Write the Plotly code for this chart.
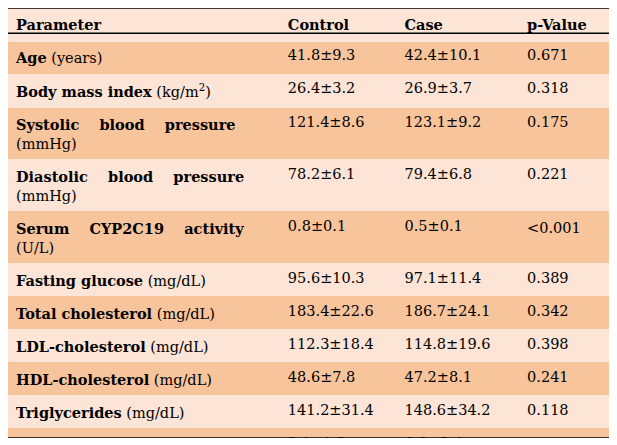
import plotly.graph_objects as go

params = ['<b>Age</b> (years)', '<b>Body mass index</b> (kg/m<sup>2</sup>)',
          '<b>Systolic    blood    pressure</b><br>(mmHg)',
          '<b>Diastolic    blood    pressure</b><br>(mmHg)',
          '<b>Serum    CYP2C19    activity</b><br>(U/L)',
          '<b>Fasting glucose</b> (mg/dL)', '<b>Total cholesterol</b> (mg/dL)',
          '<b>LDL-cholesterol</b> (mg/dL)', '<b>HDL-cholesterol</b> (mg/dL)',
          '<b>Triglycerides</b> (mg/dL)', '<b>hsCRP</b> (mg/L)',
          '<b>Interleukin-6</b> (pg/mL)', '<b>D-dimer</b> (µg/mL FEU)']
control = ['41.8±9.3', '26.4±3.2', '121.4±8.6', '78.2±6.1', '0.8±0.1', '95.6±10.3',
           '183.4±22.6', '112.3±18.4', '48.6±7.8', '141.2±31.4', '3.1±1.2', '4.2±1.8', '0.41±0.18']
case = ['42.4±10.1', '26.9±3.7', '123.1±9.2', '79.4±6.8', '0.5±0.1', '97.1±11.4',
        '186.7±24.1', '114.8±19.6', '47.2±8.1', '148.6±34.2', '6.8±2.4', '11.6±4.3', '1.92±0.74']
pvals = ['0.671', '0.318', '0.175', '0.221', '<0.001', '0.389', '0.342', '0.398',
         '0.241', '0.118', '<0.001', '<0.001', '<0.001']
headers = ['Parameter', 'Control', 'Case', 'p-Value']

dark = '#F8C49C'
light = '#FCE4D6'
fills = [dark if i % 2 == 0 else light for i in range(len(params))]

fnt = dict(family='DejaVu Serif', size=14.5, color='black')
fig = go.Figure(go.Table(
    columnwidth=[275, 118, 124, 95],
    header=dict(values=['<b>%s</b>' % h for h in headers], fill_color=light,
                line_color=light, align='left', height=25, font=fnt),
    cells=dict(values=[params, control, case, pvals], fill_color=[fills] * 4,
               line_color=[fills] * 4, align='left', height=25, font=fnt),
    domain=dict(x=[0, 1], y=[0, 1])))

for y in [1, 0.941, 0.0]:
    fig.add_shape(type='line', xref='paper', yref='paper', x0=0, x1=1, y0=y, y1=y,
                  line=dict(color='black', width=1.5))

fig.update_layout(width=605, height=430, margin=dict(l=0, r=0, t=0, b=0),
                  paper_bgcolor='white')
fig.write_html('out.html')
